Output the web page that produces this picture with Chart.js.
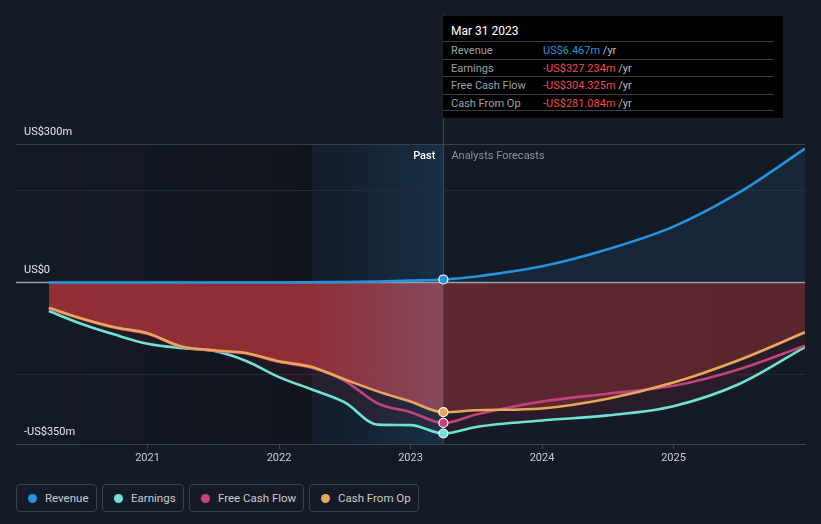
<!DOCTYPE html>
<html><head><meta charset="utf-8">
<script src="https://cdn.jsdelivr.net/npm/chart.js@4.4.0/dist/chart.umd.min.js"></script>
<style>
html,body{margin:0;padding:0;background:#151b26;width:821px;height:524px;overflow:hidden;font-family:Roboto,"Noto Sans",sans-serif;}
#wrap{position:relative;width:821px;height:524px;}
#c{position:absolute;left:0;top:0;}
#tip{position:absolute;left:443px;top:16px;width:340px;height:102px;background:#000;box-sizing:border-box;}
#tip .title{position:absolute;left:8px;top:8px;font-size:12px;color:#fff;}
#tip .row{position:absolute;left:0;width:331px;height:17px;border-top:1px solid #3a3f47;font-size:11px;line-height:17px;}
#tip .lab{position:absolute;left:8px;color:#9aa0a8;}
#tip .val{position:absolute;left:100px;}
#tip .unit{color:#b8bcc2;}
#tip .last{position:absolute;left:0;width:331px;top:94px;border-top:1px solid #3a3f47;}
#legend{position:absolute;left:16px;top:484px;}
.lg{position:absolute;top:0;box-sizing:border-box;height:28px;border:1px solid #3a404c;border-radius:4px;display:flex;align-items:center;padding:0 0 0 11px;font-size:11.5px;color:#c8ccd2;white-space:nowrap;}
.lg i{display:inline-block;width:9px;height:9px;border-radius:50%;margin-right:8px;}
</style></head>
<body><div id="wrap"><canvas id="c" width="821" height="470"></canvas><div id="tip"></div><div id="legend"></div></div>
<script>
// ---- data ----
const years = [2020.25, 2020.5, 2020.75, 2021.0, 2021.25, 2021.5, 2021.75, 2022.0, 2022.25, 2022.5, 2022.75, 2023.0, 2023.25,
               2023.5, 2024.0, 2024.5, 2025.0, 2025.5, 2026.0];
const revenue  = [0, 0, 0, 0, 0, 0, 0, 0, 0.5, 1, 2, 4, 6.467, 13, 35, 72, 121, 195, 290];
const earnings = [-62, -90, -113, -133, -142, -148, -170, -205, -232, -260, -308, -309, -327.234, -313, -299, -288, -268, -220, -140];
const fcf      = [-56, -79, -98, -111, -139, -148, -154, -172, -185, -213, -262, -281, -304.325, -286, -258, -241, -224, -188, -137];
const cfo      = [-55, -78, -97, -110, -138, -147, -153, -171, -183, -210, -236, -258, -281.084, -277, -273, -252, -217, -168, -108];
const currentYear = 2023.25;
const pastStart = 2022.25;
const currentLabel = 'Mar 31 2023';
const xTickYears = [2021, 2022, 2023, 2024, 2025];
const yLabelValues = [300, 0, -350];
const yLabelTexts = ['US$300m', 'US$0', '-US$350m'];
const yGridValues = [300, 200, 0, -200];
const seriesNames = ['Revenue', 'Earnings', 'Free Cash Flow', 'Cash From Op'];
const seriesColors = ['#2394df', '#6fe3d3', '#c4437f', '#e9a75c'];
const seriesValues = [revenue, earnings, fcf, cfo];

const FONT = 'Roboto, "Noto Sans", sans-serif';
const ci = years.indexOf(currentYear);

// ---- tooltip box ----
function fmt(v){ const s = 'US$' + Math.abs(v).toFixed(3) + 'm'; return v < 0 ? '-' + s : s; }
const tip = document.getElementById('tip');
let th = '<div class="title">' + currentLabel + '</div>';
seriesNames.forEach((n, i) => {
  const v = seriesValues[i][ci];
  const col = v < 0 ? '#f04a4a' : seriesColors[0];
  th += '<div class="row" style="top:' + (25 + i * 17.5) + 'px"><span class="lab">' + n + '</span><span class="val"><span style="color:' + col + '">' + fmt(v) + '</span> <span class="unit">/yr</span></span></div>';
});
th += '<div class="last"></div>';
tip.innerHTML = th;

// ---- legend ----
const legendWidths = [81, 82, 115, 110];
let lx = 0;
document.getElementById('legend').innerHTML = seriesNames.map((n, i) => {
  const h = '<div class="lg" style="left:' + lx + 'px;width:' + legendWidths[i] + 'px"><i style="background:' + seriesColors[i] + '"></i>' + n + '</div>';
  lx += legendWidths[i] + 5; return h; }).join('');

// ---- fills ----
function hGrad(chart, stops){
  const a = chart.chartArea; if (!a) return null;
  const x = chart.scales.x;
  const g = chart.ctx.createLinearGradient(a.left, 0, a.right, 0);
  const w = a.right - a.left;
  stops.forEach(([v, c]) => { let f = (x.getPixelForValue(v) - a.left) / w; f = Math.min(1, Math.max(0, f)); g.addColorStop(f, c); });
  return g;
}
const cfoFill = ctx => hGrad(ctx.chart, [
  [2020, 'rgba(165,50,56,0.86)'], [pastStart, 'rgba(160,50,58,0.86)'],
  [currentYear - 0.001, 'rgba(150,78,96,0.86)'], [currentYear, 'rgba(102,42,50,0.86)'], [2026, 'rgba(98,40,48,0.86)']]);
const earnFill = ctx => hGrad(ctx.chart, [
  [2020, 'rgba(150,40,55,0.13)'], [currentYear - 0.001, 'rgba(150,40,60,0.13)'], [currentYear, 'rgba(140,40,60,0.16)'], [2026, 'rgba(140,40,60,0.16)']]);
const revFill = 'rgba(35,120,200,0.11)';

const pr = ctx => (ctx.raw && ctx.raw.x === currentYear) ? 4.5 : 0;
function ds(label, vals, color, fill, bg){
  return { label, data: years.map((x, i) => ({ x, y: vals[i] })), borderColor: color, backgroundColor: bg || color,
    fill, borderWidth: 2.6, cubicInterpolationMode: 'monotone', pointRadius: pr, pointHoverRadius: 0,
    pointBackgroundColor: color, pointBorderColor: '#ffffff', pointBorderWidth: 1.2 };
}

const decor = {
  id: 'decor',
  beforeDraw(chart){
    const { ctx, chartArea: a, scales: { x } } = chart;
    const xs = x.getPixelForValue(pastStart), xc = x.getPixelForValue(currentYear);
    let g = ctx.createLinearGradient(a.left, 0, xs, 0);
    g.addColorStop(0, 'rgba(0,0,0,0)'); g.addColorStop(1, 'rgba(0,0,0,0.22)');
    ctx.save();
    ctx.fillStyle = g; ctx.fillRect(a.left, a.top, xs - a.left, a.bottom - a.top);
    g = ctx.createLinearGradient(xs, 0, xc, 0);
    g.addColorStop(0, 'rgba(20,60,100,0.08)'); g.addColorStop(1, 'rgba(25,85,130,0.36)');
    ctx.fillStyle = g; ctx.fillRect(xs, a.top, xc - xs, a.bottom - a.top);
    ctx.restore();
  },
  beforeDatasetsDraw(chart){
    const { ctx, chartArea: a, scales: { x, y } } = chart;
    const y0 = y.getPixelForValue(0), xc = x.getPixelForValue(currentYear);
    ctx.save();
    ctx.strokeStyle = '#9a9ea6'; ctx.lineWidth = 1.5;
    ctx.beginPath(); ctx.moveTo(a.left, y0); ctx.lineTo(a.right, y0); ctx.stroke();
    ctx.strokeStyle = 'rgba(60,85,110,0.75)'; ctx.lineWidth = 1;
    ctx.beginPath(); ctx.moveTo(xc, 15); ctx.lineTo(xc, a.bottom); ctx.stroke();
    ctx.restore();
  },
  afterDatasetsDraw(chart){
    const { ctx, chartArea: a, scales: { x, y } } = chart;
    const xc = x.getPixelForValue(currentYear);
    ctx.save();
    ctx.font = '11px ' + FONT; ctx.textBaseline = 'middle';
    ctx.fillStyle = '#e4e6ea'; ctx.textAlign = 'left';
    yLabelValues.forEach((v, i) => ctx.fillText(yLabelTexts[i], a.left + 8, y.getPixelForValue(v) - 12));
    ctx.font = '500 11px ' + FONT;
    ctx.textAlign = 'right'; ctx.fillStyle = '#ffffff';
    ctx.fillText('Past', xc - 8, a.top + 12);
    ctx.font = '11px ' + FONT;
    ctx.textAlign = 'left'; ctx.fillStyle = '#8d939c';
    ctx.fillText('Analysts Forecasts', xc + 8, a.top + 12);
    ctx.restore();
  }
};

new Chart(document.getElementById('c'), {
  type: 'line',
  data: { datasets: [
    ds('Revenue', revenue, seriesColors[0], 'origin', revFill),
    ds('Cash From Op', cfo, seriesColors[3], 'origin', cfoFill),
    ds('Free Cash Flow', fcf, seriesColors[2], false),
    ds('Earnings', earnings, seriesColors[1], 'origin', earnFill)
  ]},
  options: {
    responsive: false, animation: false, events: [],
    layout: { padding: { left: 16, right: 16, top: 144, bottom: 0 } },
    plugins: { legend: { display: false }, tooltip: { enabled: false }, filler: { drawTime: 'beforeDatasetsDraw' } },
    scales: {
      x: { type: 'linear', min: 2020, max: 2026,
        afterBuildTicks: s => { s.ticks = [2020].concat(xTickYears, [2026]).map(v => ({ value: v })); },
        afterFit: s => { s.height = 26; },
        ticks: { autoSkip: false, maxRotation: 0, padding: 3, color: '#c9ccd1', font: { size: 11, family: FONT },
          callback: v => xTickYears.includes(v) ? String(v) : '' },
        grid: { drawOnChartArea: false, drawTicks: true, tickLength: 5,
          color: c => (c.tick && xTickYears.includes(c.tick.value)) ? '#3d4450' : 'rgba(0,0,0,0)' },
        border: { display: true, color: '#3d4450', width: 1 } },
      y: { min: -350, max: 300,
        afterBuildTicks: s => { s.ticks = yGridValues.map(v => ({ value: v })); },
        afterFit: s => { s.width = 0; },
        ticks: { display: false },
        grid: { drawTicks: false, color: c => c.tick.value === 300 ? '#3a404b' : (c.tick.value === 0 ? 'rgba(0,0,0,0)' : '#252b36'), lineWidth: 1 },
        border: { display: false } }
    }
  },
  plugins: [decor]
});
</script></body></html>
